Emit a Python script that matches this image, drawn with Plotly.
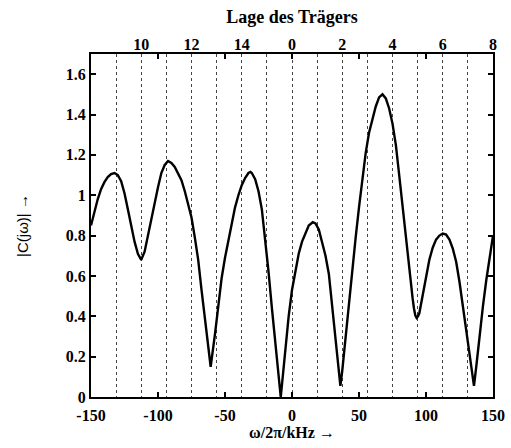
import plotly.graph_objects as go

# Magnitude of the channel transfer function |C(jw)| over frequency (kHz)
freq_khz = [
    -150, -147.5, -145, -142.5, -140, -137.5, -135, -132.5, -130, -127.5,
    -125, -122.5, -120, -117.5, -115, -112.5, -110, -107.5, -105, -102.5,
    -100, -97.5, -95, -92.5, -90, -87.5, -85, -82.5, -80, -77.5,
    -75, -72.5, -70, -67.5, -65, -62.5, -60.7, -57.5, -55, -52.5,
    -50, -47.5, -45, -42.5, -40, -37.5, -35, -32.5, -31, -30,
    -27.5, -25, -22.5, -20, -17.5, -15, -12.5, -10, -8.4, -7.5,
    -5, -2.5, 0, 2.5, 5, 7.5, 10, 12.5, 15.5, 17.5,
    20, 22.5, 25, 27.5, 30, 32.5, 35, 36.1, 37.5, 40,
    42.5, 45, 47.5, 50, 52.5, 55, 57.5, 60, 62.5, 65,
    67.5, 70, 72.5, 75, 77.5, 80, 82.5, 85, 87.5, 90,
    91, 92, 93, 94, 95, 97.5, 100, 102.5, 105, 107.5, 110,
    112.5, 115, 117.5, 120, 122.5, 125, 127.5, 130, 132.5, 135,
    135.8, 137.5, 140, 142.5, 145, 147.5, 150,
]
magnitude = [
    0.85, 0.92, 0.98, 1.03, 1.065, 1.09, 1.105, 1.11, 1.10, 1.07,
    1.01, 0.93, 0.85, 0.77, 0.71, 0.68, 0.72, 0.80, 0.89, 0.97,
    1.04, 1.11, 1.15, 1.17, 1.16, 1.14, 1.11, 1.075, 1.02, 0.96,
    0.89, 0.79, 0.68, 0.53, 0.39, 0.25, 0.15, 0.31, 0.45, 0.59,
    0.69, 0.78, 0.87, 0.94, 1.00, 1.05, 1.085, 1.11, 1.115, 1.11,
    1.08, 1.02, 0.93, 0.78, 0.62, 0.44, 0.26, 0.10, 0.0, 0.06,
    0.23, 0.40, 0.53, 0.63, 0.71, 0.77, 0.815, 0.85, 0.866, 0.86,
    0.83, 0.77, 0.70, 0.61, 0.45, 0.28, 0.12, 0.055, 0.13, 0.30,
    0.46, 0.63, 0.79, 0.94, 1.08, 1.21, 1.31, 1.38, 1.44, 1.485,
    1.50, 1.48, 1.43, 1.355, 1.25, 1.10, 0.94, 0.80, 0.64, 0.49,
    0.44, 0.405, 0.392, 0.40, 0.415, 0.50, 0.60, 0.68, 0.74, 0.78, 0.80,
    0.81, 0.805, 0.78, 0.735, 0.67, 0.57, 0.45, 0.32, 0.20, 0.09,
    0.055, 0.15, 0.31, 0.45, 0.58, 0.70, 0.80,
]

# Carrier positions (kHz) and their labels on the top axis
carrier_khz = [
    -131.25, -112.5, -93.75, -75, -56.25, -37.5, -18.75, 0,
    18.75, 37.5, 56.25, 75, 93.75, 112.5, 131.25, 150,
]
carrier_labels = ["", "10", "", "12", "", "14", "", "0",
                  "", "2", "", "4", "", "6", "", "8"]

x_ticks = [-150, -100, -50, 0, 50, 100, 150]
y_ticks = [0, 0.2, 0.4, 0.6, 0.8, 1, 1.2, 1.4, 1.6]
y_ticklabels = ["0", "0.2", "0.4", "0.6", "0.8", "1", "1.2", "1.4", "1.6"]

serif = "Liberation Serif"
tick_font = dict(family=serif, size=16, color="black", weight="bold")

fig = go.Figure()
fig.add_trace(go.Scatter(
    x=freq_khz, y=magnitude, mode="lines",
    line=dict(color="black", width=2.4),
    showlegend=False, hoverinfo="skip",
))
# invisible trace that binds the top carrier axis
fig.add_trace(go.Scatter(x=[-150, 150], y=[0, 0], xaxis="x2", mode="lines",
                         line=dict(width=0), showlegend=False, hoverinfo="skip"))

fig.update_layout(
    width=511, height=448,
    margin=dict(l=91, r=18, t=54, b=51, autoexpand=False),
    paper_bgcolor="white", plot_bgcolor="white",
    title=dict(text="Lage des Trägers", x=0.5, xref="paper", xanchor="center",
               y=1 - 17 / 448, yref="container", yanchor="middle",
               font=dict(family=serif, size=18, color="black", weight="bold")),
    xaxis=dict(
        range=[-150, 150], tickvals=x_ticks, ticktext=[str(v) for v in x_ticks],
        ticks="inside", ticklen=5, tickwidth=1.5, tickcolor="black",
        showline=True, linecolor="black", linewidth=2, mirror="ticks",
        showgrid=False, zeroline=False, tickfont=tick_font, automargin=False,
        ticklabelstandoff=3,
        title=dict(text="ω/2π/kHz →", standoff=3,
                   font=dict(family=serif, size=16, color="black", weight="bold")),
    ),
    xaxis2=dict(
        range=[-150, 150], overlaying="x", side="top", anchor="y",
        tickvals=carrier_khz, ticktext=carrier_labels, ticks="",
        showgrid=True, gridcolor="#444", gridwidth=1, griddash="dot",
        showline=False, zeroline=False, tickfont=tick_font, automargin=False,
    ),
    yaxis=dict(
        range=[0, 1.7], tickvals=y_ticks, ticktext=y_ticklabels,
        ticks="inside", ticklen=5, tickwidth=1.5, tickcolor="black",
        showline=True, linecolor="black", linewidth=2, mirror="ticks",
        showgrid=False, zeroline=False, tickfont=tick_font, automargin=False,
        title=dict(text="|C(jω)| →", standoff=34,
                   font=dict(family="Liberation Sans", size=15, color="black")),
    ),
)

fig.write_html("out.html")
